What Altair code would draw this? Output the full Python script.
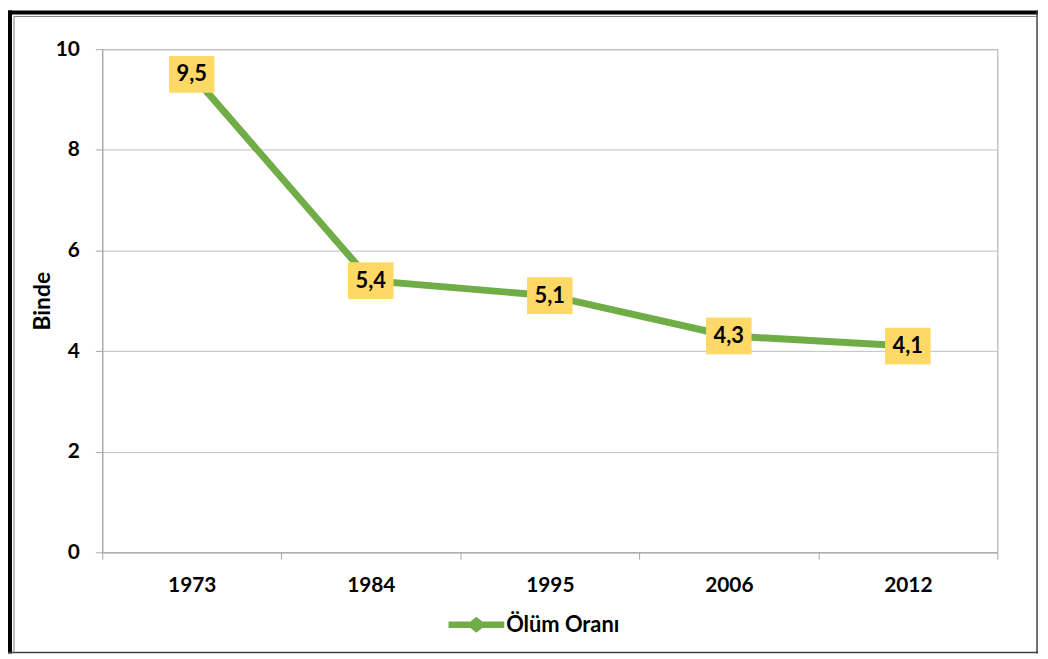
import altair as alt
import pandas as pd

years = ["1973", "1984", "1995", "2006", "2012"]
values = [9.5, 5.4, 5.1, 4.3, 4.1]
labels = ["9,5", "5,4", "5,1", "4,3", "4,1"]
series_name = "Ölüm Oranı"
y_ticks = [0, 2, 4, 6, 8, 10]

df = pd.DataFrame({"year": years, "value": values, "label": labels,
                   "series": [series_name] * len(years)})

GREEN = "#70AD47"
BOX = "#FFD966"
GRID = "#BFBFBF"
AXIS = "#A6A6A6"
FONT = "Lato"

xenc = alt.X(
    "year:N", sort=years,
    scale=alt.Scale(type="band", paddingInner=0, paddingOuter=0),
    bandPosition=0.5,
    axis=alt.Axis(title=None, tickBand="extent", labelAngle=0, labelFontSize=21,
                  labelFontWeight="bold", labelColor="black", labelFont=FONT,
                  labelPadding=15, tickSize=7, tickColor=AXIS, domainColor=AXIS,
                  grid=False),
)
yenc = alt.Y(
    "value:Q", scale=alt.Scale(domain=[0, 10]),
    axis=alt.Axis(values=y_ticks, title="Binde", titleFont=FONT, titleFontSize=23,
                  titleFontWeight="bold", titleColor="black", titlePadding=1,
                  labelFontSize=21, labelFontWeight="bold", labelColor="black",
                  labelFont=FONT, labelPadding=16, tickSize=7, tickColor=AXIS,
                  domainColor=AXIS, grid=True, gridColor=GRID, gridWidth=1),
)

legend_shape = ("M-2.6,-0.3 L-0.55,-0.3 L0,-0.75 L0.55,-0.3 L2.6,-0.3 L2.6,0.3 "
                "L0.55,0.3 L0,0.75 L-0.55,0.3 L-2.6,0.3 Z")

base = alt.Chart(df)

line = base.mark_line(strokeWidth=7).encode(
    x=xenc, y=yenc,
    color=alt.Color("series:N", scale=alt.Scale(range=[GREEN]),
                    legend=alt.Legend(title=None, orient="none", legendX=366, legendY=569,
                                      symbolType=legend_shape, symbolSize=466,
                                      symbolFillColor=GREEN, symbolStrokeColor=GREEN,
                                      symbolStrokeWidth=0, labelOffset=19,
                                      labelFont=FONT, labelFontSize=22,
                                      labelFontWeight="bold", labelColor="black",
                                      padding=0)),
)

boxes = base.mark_point(shape="M-1.24,-1 L1.24,-1 L1.24,1 L-1.24,1 Z", filled=True,
                        fill=BOX, opacity=1, size=1369, strokeWidth=0).encode(
    x=xenc, y=yenc)

texts = base.mark_text(font=FONT, fontSize=22, fontWeight="bold", color="black").encode(
    x=xenc, y=yenc, text="label:N")

one = alt.Chart(pd.DataFrame({"a": [0]}))
frame = [
    one.mark_rule(color="black", strokeWidth=4).encode(
        x=alt.value(-95), x2=alt.value(943), y=alt.value(-37)),
    one.mark_rule(color="black", strokeWidth=4).encode(
        x=alt.value(-93), y=alt.value(-39), y2=alt.value(609)),
    one.mark_rule(color="#404040", strokeWidth=1.5).encode(
        x=alt.value(942), y=alt.value(-39), y2=alt.value(609)),
    one.mark_rule(color="#404040", strokeWidth=1.5).encode(
        x=alt.value(-95), x2=alt.value(943), y=alt.value(608)),
    one.mark_rule(color="#7F7F7F", strokeWidth=1).encode(
        x=alt.value(-89), x2=alt.value(942), y=alt.value(-33)),
    one.mark_rule(color="#7F7F7F", strokeWidth=1).encode(
        x=alt.value(-89), y=alt.value(-33), y2=alt.value(608)),
]

chart = alt.layer(line, boxes, texts, *frame).properties(
    width=902, height=507,
    padding={"left": 95, "top": 39, "right": 43, "bottom": 105},
    autosize="none",
    background="white",
).configure_view(stroke=AXIS, strokeWidth=1)

chart.save("out.html", embed_options={"renderer": "svg", "actions": False})
